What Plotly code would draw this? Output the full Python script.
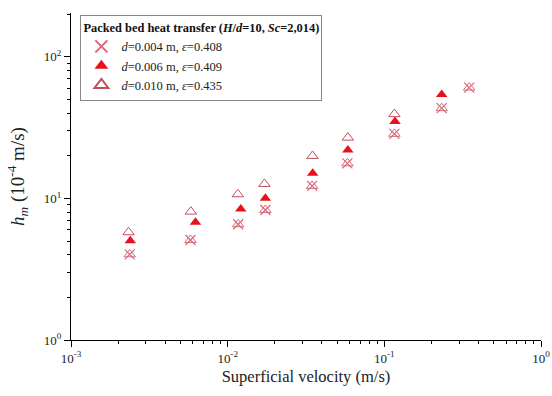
import plotly.graph_objects as go

# Data
x_d004 = [0.00237, 0.00579, 0.01167, 0.01741, 0.0346, 0.0581, 0.1159, 0.2323, 0.348]
h_d004 = [4.03, 5.09, 6.57, 8.29, 12.26, 17.7, 28.6, 43.4, 60.7]

x_d006 = [0.00239, 0.00623, 0.01213, 0.01741, 0.0349, 0.0585, 0.117, 0.2323]
h_d006 = [5.03, 6.79, 8.43, 10.03, 15.07, 22.0, 34.9, 54.2]

x_d010 = [0.00233, 0.00582, 0.01161, 0.01717, 0.0348, 0.0585, 0.1159]
h_d010 = [5.77, 8.07, 10.7, 12.66, 19.97, 26.9, 39.4]

x_tickvals = [0.001, 0.01, 0.1, 1]
x_ticktext = ["10<sup>-3</sup>", "10<sup>-2</sup>", "10<sup>-1</sup>", "10<sup>0</sup>"]
y_tickvals = [1, 10, 100]
y_ticktext = ["10<sup>0</sup>", "10<sup>1</sup>", "10<sup>2</sup>"]

names = ["<i>d</i>=0.004 m, <i>ε</i>=0.408",
         "<i>d</i>=0.006 m, <i>ε</i>=0.409",
         "<i>d</i>=0.010 m, <i>ε</i>=0.435"]

FONT = "Times New Roman"
c_x = "#d46a78"
c_fill = "#e8101a"
c_open = "#c0505e"

fig = go.Figure()
fig.add_trace(go.Scatter(
    x=x_d004, y=h_d004, mode="markers", name=names[0],
    marker=dict(symbol="x-thin-open", size=10, color=c_x, line=dict(color=c_x, width=1.2)),
))
fig.add_trace(go.Scatter(
    x=x_d004, y=h_d004, mode="markers", showlegend=False, hoverinfo="skip",
    marker=dict(symbol="triangle-up-open", size=10, color=c_x, line=dict(color=c_x, width=1)),
))
fig.add_trace(go.Scatter(
    x=x_d006, y=h_d006, mode="markers", name=names[1],
    marker=dict(symbol="triangle-up", size=10, color=c_fill, line=dict(width=0)),
))
fig.add_trace(go.Scatter(
    x=x_d010, y=h_d010, mode="markers", name=names[2],
    marker=dict(symbol="triangle-up-open", size=10, color=c_open, line=dict(color=c_open, width=1)),
))

axis_common = dict(
    type="log", showgrid=False, zeroline=False, showline=True,
    linecolor="black", linewidth=1.2, ticks="outside", ticklen=6,
    tickcolor="black", tickwidth=1.2,
    tickmode="array",
    tickfont=dict(family=FONT, size=13, color="#222"),
    minor=dict(dtick="D1", ticks="outside", ticklen=3,
               tickcolor="black", tickwidth=1, showgrid=False),
)

fig.update_xaxes(
    **axis_common,
    range=[-3, 0], tickvals=x_tickvals, ticktext=x_ticktext,
    title=dict(text="Superficial velocity (m/s)", font=dict(family=FONT, size=16.5, color="#222"), standoff=5),
)
fig.update_yaxes(
    **axis_common,
    range=[0, 2.31], tickvals=y_tickvals, ticktext=y_ticktext,
    title=dict(text="<i>h</i><sub><i>m</i></sub> (10<sup>-4</sup> m/s)", font=dict(family=FONT, size=19, color="#222"), standoff=14),
)

fig.update_layout(
    width=552, height=396,
    margin=dict(l=71, r=11, t=13, b=56, autoexpand=False),
    paper_bgcolor="white", plot_bgcolor="white",
    font=dict(family=FONT, color="#222"),
    legend=dict(
        x=0.02, y=0.995, xanchor="left", yanchor="top",
        bgcolor="white", bordercolor="#888", borderwidth=1,
        font=dict(family=FONT, size=12.5, color="#222"),
        title=dict(text="<b>Packed bed heat transfer (<i>H</i>/<i>d</i>=10, <i>Sc</i>=2,014)</b>",
                   font=dict(family=FONT, size=12.4, color="#111")),
        itemsizing="constant", tracegroupgap=0,
    ),
)

fig.write_html("out.html")
